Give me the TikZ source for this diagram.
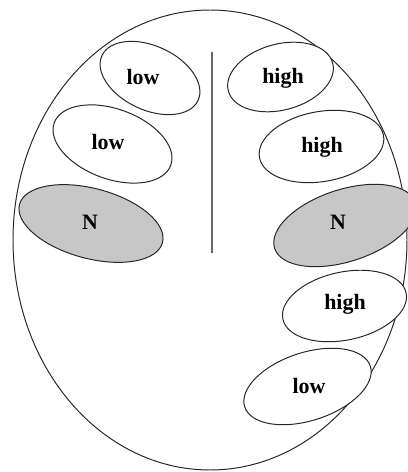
\documentclass[tikz,border=0pt]{standalone}
\usepackage{fontspec}
\setmainfont{Liberation Serif}
\usetikzlibrary{shapes.geometric}

\begin{document}
\begin{tikzpicture}[
    outline/.style={draw=black!85, line width=0.7pt},
    blob/.style={
      ellipse, draw=black!85, line width=0.7pt, fill=white,
      inner sep=0pt
    },
    nblob/.style={blob, fill=black!22},
    blobtext/.style={font=\bfseries\fontsize{15.6}{18}\selectfont, inner sep=0pt},
    divider/.style={draw=black!60, line width=0.8pt},
]
\useasboundingbox (0,0) rectangle (10.2,11.8);

% ===== OUTER OVAL =====
\draw[outline] (5.25,5.8) ellipse [x radius=4.925, y radius=5.75];

% ===== MIDLINE =====
\coordinate (midtop) at (5.3,10.5);
\coordinate (midbot) at (5.3,5.475);
\draw[divider] (midtop) -- (midbot);

% ===== LEFT SIDE =====
\node[blob, rotate=-25, minimum width=2.65cm, minimum height=1.6cm] (lo1) at (3.75,9.85) {};
\node[blobtext] (lo1t) at (3.575,9.875) {low};

\node[blob, rotate=-20, minimum width=3.1cm, minimum height=1.75cm] (lo2) at (2.8125,8.2) {};
\node[blobtext] (lo2t) at (2.7,8.25) {low};

\node[nblob, rotate=-15, minimum width=3.7cm, minimum height=1.75cm] (nl) at (2.275,6.2125) {};
\node[blobtext] (nlt) at (2.25,6.25) {N};

% ===== RIGHT SIDE =====
\node[blob, rotate=15, minimum width=2.7cm, minimum height=1.65cm] (hi1) at (7.0125,9.875) {};
\node[blobtext] (hi1t) at (7.075,9.85) {high};

\node[blob, rotate=10, minimum width=3.15cm, minimum height=1.75cm] (hi2) at (8.0375,8.1375) {};
\node[blobtext] (hi2t) at (8.05,8.12) {high};

\node[nblob, rotate=18, minimum width=3.7cm, minimum height=1.8cm] (nr) at (8.625,6.1625) {};
\node[blobtext] (nrt) at (8.45,6.25) {N};

\node[blob, rotate=12, minimum width=3.15cm, minimum height=1.7cm] (hi3) at (8.6125,4.15) {};
\node[blobtext] (hi3t) at (8.625,4.18) {high};

\node[blob, rotate=18, minimum width=3.3cm, minimum height=1.7cm] (lo3) at (7.6875,2.1375) {};
\node[blobtext] (lo3t) at (7.725,2.15) {low};

\end{tikzpicture}
\end{document}
